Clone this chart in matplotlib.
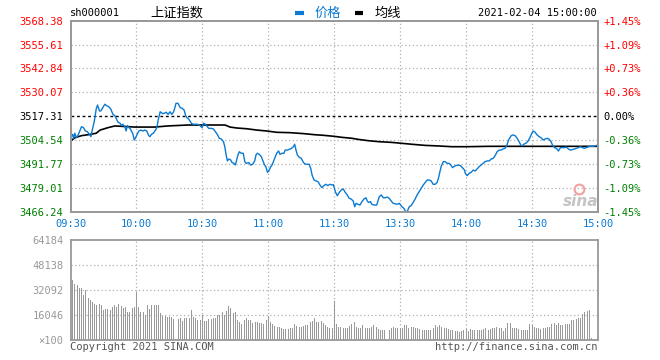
import numpy as np
import matplotlib.pyplot as plt
from matplotlib.lines import Line2D

plt.rcParams['font.family'] = ['DejaVu Sans Mono', 'Noto Sans CJK SC']

# price (minute index from 09:30, 240 = 15:00)
price_min = [0, 1, 1.4, 2, 2.6, 3.5, 4.4, 5, 5.9, 6.8, 7.7, 8.7, 9.3, 9.9, 10.8, 11.7, 12.3, 13.2, 13.8, 14.7,
             15.6, 16.5, 17.4, 18.3, 19.3, 20.2, 21.1, 21.7, 22.6, 23.2, 23.8, 24.7, 25.3, 25.9, 26.5, 27.1, 27.7,
             28.3, 29, 29.6, 30.2, 31.1, 32, 32.9, 33.8, 34.7, 35.6, 36.2, 36.8, 37.7, 38.7, 39.3, 39.9, 40.8,
             41.7, 42.6, 43.5, 44.4, 45.3, 46, 46.8, 47.4, 48, 48.9, 49.9, 50.8, 51.7, 52.3, 52.9, 53.5, 54.4, 55,
             55.9, 56.8, 57.7, 58.6, 59.9, 60.5, 61.4, 62.3, 62.9, 64.1, 65.0, 65.9, 66.8, 67.7, 68.6, 69.6, 70.2,
             70.8, 71.4, 72.0, 72.9, 73.5, 74.4, 75.0, 75.6, 76.2, 76.8, 77.7, 78.6, 79.3, 79.9, 81.1, 82.0, 82.9,
             83.8, 84.4, 85.0, 85.9, 86.8, 87.4, 88.3, 88.9, 89.6, 90.2, 91.1, 91.7, 92.6, 93.2, 93.8, 94.7, 95.3,
             96.2, 97.1, 97.7, 98.6, 99.6, 100.5, 101.4, 102.0, 102.6, 103.2, 104.1, 105.0, 106.0, 106.8, 107.7,
             108.6, 109.3, 109.9, 110.8, 111.7, 112.6, 113.5, 114.4, 115.3, 116.2, 117.1, 118.0, 119.0, 119.6,
             120.5, 121.4, 122.3, 123.2, 124.1, 125.0, 125.9, 126.8, 127.7, 128.6, 129.3, 129.9, 130.8, 131.7,
             132.6, 133.5, 134.4, 135.0, 135.6, 136.5, 137.1, 138.0, 139.3, 139.9, 140.5, 141.4, 142.3, 143.2,
             144.1, 145.0, 145.9, 146.8, 147.7, 148.6, 149.6, 150.2, 150.8, 151.7, 152.3, 152.9, 153.5, 154.1,
             155.0, 155.9, 156.8, 157.7, 158.6, 159.6, 160.5, 161.4, 162.3, 163.2, 164.1, 165.0, 165.9, 166.8,
             167.4, 168.0, 168.6, 169.6, 170.5, 171.4, 172.3, 173.2, 173.8, 174.4, 175.3, 176.5, 177.4, 178.3,
             179.3, 179.6, 180.5, 181.4, 182.3, 183.2, 184.1, 185.0, 185.9, 186.8, 187.7, 188.6, 189.6, 190.5,
             191.4, 192.3, 192.9, 193.5, 194.1, 195.0, 195.9, 196.8, 197.7, 198.6, 199.3, 199.9, 200.5, 201.4,
             202.3, 203.2, 204.1, 205.0, 205.6, 206.2, 207.1, 208.0, 209.0, 209.9, 210.5, 211.4, 212.3, 213.2,
             214.1, 215.0, 215.9, 216.8, 217.7, 218.6, 219.3, 220.2, 221.1, 222.0, 222.9, 223.8, 224.7, 225.6,
             226.5, 227.4, 228.3, 229.3, 230.2, 231.1, 232.0, 232.9, 233.8, 234.7, 235.6, 236.5, 238.0, 240.0]
price_val = [3505.5, 3507.6, 3505.5, 3508.2, 3505.8, 3507.3, 3509.9, 3511.7, 3511.2, 3509.4, 3509.0, 3507.3,
             3506.4, 3509.9, 3514.4, 3521.2, 3523.3, 3520.1, 3520.1, 3521.9, 3523.7, 3522.9, 3522.4, 3521.2,
             3518.3, 3517.6, 3515.3, 3514.0, 3513.5, 3512.3, 3513.0, 3511.7, 3509.4, 3512.3, 3511.2, 3510.8,
             3509.4, 3508.2, 3504.6, 3505.8, 3507.3, 3509.4, 3509.9, 3509.4, 3509.9, 3509.4, 3506.9, 3506.4,
             3507.6, 3508.2, 3509.9, 3511.2, 3515.3, 3519.7, 3518.8, 3518.8, 3519.4, 3518.3, 3519.7, 3518.3,
             3519.4, 3521.5, 3524.2, 3524.2, 3521.9, 3521.5, 3520.6, 3518.0, 3516.5, 3516.2, 3514.7, 3513.5,
             3513.0, 3513.0, 3513.0, 3512.6, 3511.2, 3513.5, 3513.0, 3511.7, 3510.8, 3510.8, 3510.5, 3509.0,
             3507.6, 3505.5, 3505.1, 3503.7, 3501.0, 3496.6, 3493.4, 3494.4, 3493.9, 3492.5, 3492.1, 3491.2,
             3493.9, 3496.6, 3498.3, 3497.5, 3497.5, 3493.0, 3492.1, 3492.5, 3491.2, 3491.6, 3493.4, 3496.6,
             3497.5, 3496.9, 3495.7, 3493.9, 3491.2, 3490.3, 3487.3, 3488.0, 3490.3, 3491.2, 3493.9, 3495.7,
             3497.5, 3498.7, 3496.9, 3497.5, 3497.5, 3499.2, 3499.2, 3499.6, 3500.1, 3501.0, 3502.3, 3499.2,
             3496.6, 3495.3, 3494.8, 3492.5, 3491.7, 3491.6, 3491.6, 3489.4, 3485.9, 3483.2, 3482.7, 3482.3,
             3480.5, 3479.1, 3480.2, 3480.9, 3480.2, 3480.9, 3480.5, 3480.7, 3476.9, 3474.8, 3476.6, 3477.8,
             3478.4, 3476.6, 3475.2, 3473.4, 3473.0, 3472.0, 3468.9, 3470.7, 3470.2, 3469.8, 3471.6, 3473.0,
             3473.7, 3472.0, 3471.2, 3471.6, 3470.2, 3469.8, 3469.8, 3472.0, 3474.3, 3475.2, 3473.7, 3473.7,
             3474.1, 3473.4, 3472.0, 3470.7, 3470.5, 3470.2, 3470.7, 3469.8, 3468.9, 3468.0, 3466.6, 3465.9,
             3467.1, 3468.9, 3469.5, 3471.2, 3473.0, 3475.2, 3476.9, 3478.7, 3480.5, 3481.9, 3483.2, 3483.2,
             3482.7, 3480.9, 3480.9, 3481.9, 3484.1, 3487.3, 3490.3, 3493.0, 3493.0, 3492.1, 3492.1, 3490.9,
             3489.8, 3490.3, 3490.9, 3491.2, 3490.9, 3489.8, 3488.5, 3486.8, 3485.5, 3486.8, 3487.3, 3488.5,
             3488.0, 3489.1, 3490.3, 3491.2, 3492.1, 3493.0, 3493.4, 3493.4, 3494.4, 3494.8, 3495.7, 3496.9,
             3498.3, 3499.2, 3499.2, 3499.8, 3500.1, 3501.9, 3504.6, 3505.8, 3506.9, 3507.3, 3506.9, 3505.5,
             3503.7, 3501.6, 3501.6, 3502.3, 3502.8, 3503.7, 3505.8, 3508.2, 3509.4, 3508.7, 3507.3, 3506.4,
             3505.8, 3504.6, 3505.1, 3505.5, 3505.1, 3503.7, 3501.9, 3500.5, 3500.1, 3498.7, 3500.5, 3500.5,
             3500.5, 3500.8, 3499.8, 3499.2, 3499.4, 3499.8, 3500.1, 3500.5, 3501.0, 3500.5, 3500.1, 3500.5,
             3501.0, 3501.2, 3501.2, 3501.9]

avg_min = [0, 2, 5, 9, 11.7, 13.5, 17.1, 20.2, 29.3, 38.3, 44.4, 53.5, 70.3, 72.6, 75.6, 80.2, 84.7, 89.3,
           93.8, 99.9, 106, 111.2, 115, 120.3, 123.5, 128, 131, 135.6, 140.2, 146.2, 150.8, 155.3, 161.4,
           167.4, 173.5, 180.5, 190, 240]
avg_val = [3504.0, 3505.8, 3506.9, 3507.6, 3508.2, 3509.9, 3511.2, 3512.1, 3511.5, 3511.5, 3512.1, 3512.6,
           3512.6, 3511.5, 3511.0, 3510.6, 3509.9, 3509.4, 3508.7, 3508.5, 3508.0, 3507.4, 3507.1, 3506.5,
           3506.0, 3505.5, 3504.9, 3504.2, 3503.7, 3503.3, 3502.8, 3502.3, 3501.7, 3501.4, 3501.0, 3501.0,
           3501.2, 3501.2]

# volume per minute (x100), 241 bars
volume = [64184, 38700, 36200, 35500, 33800, 33800, 29100, 32100, 27400, 25900,
          24400, 23500, 22700, 23100, 22700, 19500, 20100, 20100, 19500, 21600,
          22700, 21600, 23100, 22200, 21000, 21600, 18000, 18000, 21000, 21600,
          30800, 21600, 18000, 18000, 16300, 22700, 20100, 22700, 22700, 22700,
          22700, 17300, 15800, 15800, 15000, 15000, 15000, 13700, 15000, 13700,
          14500, 12400, 14500, 14500, 14500, 19500, 15200, 14100, 13100, 13100,
          16300, 12400, 12400, 13700, 13700, 14100, 14500, 16300, 16300, 18000,
          16300, 18800, 22300, 21000, 17300, 18000, 13100, 11600, 10300, 13100,
          14500, 13100, 13100, 10900, 11600, 11600, 10900, 10900, 10300, 13100,
          15800, 11600, 10300, 9400, 8800, 8800, 8100, 7300, 7300, 7300,
          7700, 8100, 10300, 9400, 8800, 8800, 9400, 9800, 9800, 11600,
          12400, 14500, 12000, 11600, 12400, 10900, 9800, 8800, 8100, 7700,
          25000,
          10700, 8800, 8800, 7700, 8100, 8100, 9400, 10700, 11600, 8800,
          7700, 7700, 9800, 8100, 7700, 7700, 8800, 9800, 8800, 7300,
          6400, 6400, 6400, 7700, 6400, 7700, 8600, 7700, 7700, 8100,
          7700, 9800, 9800, 7700, 8800, 8800, 7700, 7700, 7300, 6600,
          6600, 6600, 6400, 6600, 8100, 9800, 8800, 9800, 8800, 8100,
          7700, 7300, 6800, 6400, 6000, 6000, 5600, 6000, 6400, 7300,
          6000, 7300, 6600, 6400, 6400, 6600, 6800, 7300, 7700, 6600,
          7300, 8100, 7700, 8800, 7700, 8100, 6000, 8100, 10900, 10900,
          8100, 7700, 8100, 7300, 6800, 6600, 6600, 6600, 10300, 9800,
          8800, 7700, 7700, 7300, 8100, 7700, 8800, 8800, 10300, 10900,
          9800, 10900, 9800, 9800, 10300, 10300, 10300, 13100, 13100, 13700,
          14100, 14500, 16700, 18000, 18800, 19500, 1700, 0, 0, 0]

prev_close = 3517.31
price_ticks = [3466.24, 3479.01, 3491.77, 3504.54, 3517.31, 3530.07, 3542.84, 3555.61, 3568.38]
pct_labels = ['-1.45%', '-1.09%', '-0.73%', '-0.36%', '0.00%', '+0.36%', '+0.73%', '+1.09%', '+1.45%']
time_ticks = [0, 30, 60, 90, 120, 150, 180, 210, 240]
time_labels = ['09:30', '10:00', '10:30', '11:00', '11:30', '13:30', '14:00', '14:30', '15:00']
vol_ticks = [0, 16046, 32092, 48138, 64184]
vol_labels = ['\u00d7100', '16046', '32092', '48138', '64184']

RED = '#ff0000'
GREEN = '#008000'
BLUE = '#0a7ad2'
GRAY = '#999999'
GRID = '#b0b0b0'

fig = plt.figure(figsize=(6.6, 3.6), dpi=100)
W, H = 660, 360


def box(x0, y0, x1, y1):
    return [x0 / W, 1 - y1 / H, (x1 - x0) / W, (y1 - y0) / H]


def side_color(v):
    if v > prev_close + 0.01:
        return RED
    if v < prev_close - 0.01:
        return GREEN
    return 'black'


ax = fig.add_axes(box(70.5, 20.7, 598, 211.7))
axv = fig.add_axes(box(70.5, 240.3, 598, 340.3))

# price panel
ax.plot(price_min, price_val, color=BLUE, lw=1.0, zorder=3)
ax.plot(avg_min, avg_val, color='black', lw=1.2, zorder=2)
ax.axhline(prev_close, color='black', lw=1.0, ls=(0, (2, 2)), zorder=1)
ax.set_xlim(0, 240)
ax.set_ylim(price_ticks[0], price_ticks[-1])
ax.set_yticks(price_ticks)
ax.set_yticklabels(['%.2f' % v for v in price_ticks], fontsize=7.5)
for lab, v in zip(ax.get_yticklabels(), price_ticks):
    lab.set_color(side_color(v))
ax.set_xticks(time_ticks)
ax.set_xticklabels(time_labels, fontsize=7.5, color=BLUE)
ax.tick_params(length=0, pad=5)
for v in price_ticks[1:-1]:
    if abs(v - prev_close) > 0.01:
        ax.axhline(v, color=GRID, lw=0.9, ls=(0, (1, 2)), zorder=0)
for t in time_ticks[1:-1]:
    ax.axvline(t, color=GRID, lw=0.9, ls=(0, (1, 2)), zorder=0)

axr = ax.twinx()
axr.set_ylim(ax.get_ylim())
axr.set_yticks(price_ticks)
axr.set_yticklabels(pct_labels, fontsize=7.5)
for lab, v in zip(axr.get_yticklabels(), price_ticks):
    lab.set_color(side_color(v))
axr.tick_params(length=0, pad=4)

for a in (ax, axr, axv):
    for s in a.spines.values():
        s.set_color(GRAY)
        s.set_linewidth(1.3)

# volume panel
axv.bar(np.arange(len(volume)), volume, width=0.45, color=GRAY, zorder=2)
axv.set_xlim(0, 240)
axv.set_ylim(0, vol_ticks[-1])
axv.set_yticks(vol_ticks)
axv.set_yticklabels(vol_labels, fontsize=7.5, color=GRAY)
axv.set_xticks([])
axv.tick_params(length=0, pad=5)
for v in vol_ticks[1:-1]:
    axv.axhline(v, color=GRID, lw=0.9, ls=(0, (1, 2)), zorder=1)
for t in time_ticks[1:-1]:
    axv.axvline(t, color=GRID, lw=0.9, ls=(0, (1, 2)), zorder=1)

# header and footer
cjk = ['Noto Sans CJK SC', 'DejaVu Sans']
ty = 1 - 13 / H
fig.text(70 / W, ty, 'sh000001', fontsize=7.5, va='center', ha='left')
fig.text(150 / W, ty, '上证指数', fontsize=9.5, va='center', ha='left', family=cjk)
fig.add_artist(Line2D([295 / W, 304 / W], [ty, ty], color=BLUE, lw=3, solid_capstyle='butt'))
fig.text(315 / W, ty, '价格', fontsize=9.5, va='center', ha='left', color=BLUE, family=cjk)
fig.add_artist(Line2D([355 / W, 363 / W], [ty, ty], color='black', lw=3, solid_capstyle='butt'))
fig.text(375 / W, ty, '均线', fontsize=9.5, va='center', ha='left', family=cjk)
fig.text(597 / W, ty, '2021-02-04 15:00:00', fontsize=7.5, va='center', ha='right')
fig.text(70 / W, 1 - 347 / H, 'Copyright 2021 SINA.COM', fontsize=7.5, va='center', ha='left', color='#555555')
fig.text(597 / W, 1 - 347 / H, 'http://finance.sina.com.cn', fontsize=7.5, va='center', ha='right',
         color='#555555')

# watermark
fig.text(581 / W, 1 - 201 / H, 'sina', fontsize=11, va='center', ha='center', color='#c4c4c4',
         fontweight='bold', style='italic', family='DejaVu Sans')
fig.add_artist(Line2D([579 / W], [1 - 189 / H], marker='o', markersize=7, markerfacecolor='none',
                      markeredgecolor='#f4a0a0', markeredgewidth=1.5, linestyle='none'))

fig.savefig('out.png', dpi=100)
